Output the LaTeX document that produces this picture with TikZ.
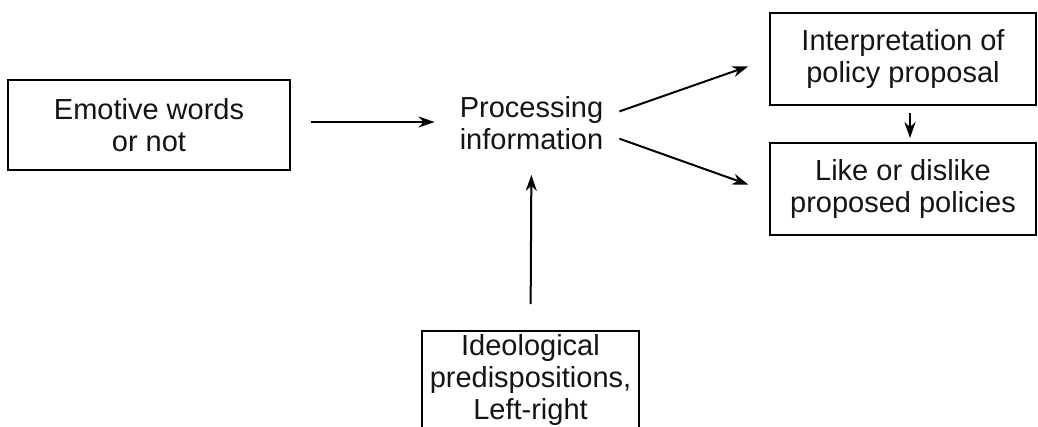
\documentclass[tikz,border=0pt]{standalone}
\usepackage{fontspec}
\setmainfont{Liberation Sans}
\usetikzlibrary{arrows.meta}
\begin{document}
\begin{tikzpicture}[x=1pt,y=-1pt,
  every node/.style={align=center, inner sep=0pt, font=\fontsize{29}{32}\selectfont, text=black!92},
  box/.style={draw=black, line width=1.8pt},
  arr/.style={-{Stealth[length=16pt,width=11pt,inset=5pt]}, line width=2pt}]
\useasboundingbox (0,0) rectangle (1038,426);
\clip (0,0) rectangle (1038,426);
\node[box, minimum width=282pt, minimum height=90pt] (emo) at (149,125) {Emotive words\\or not};
\node[minimum width=143pt, minimum height=50pt] (proc) at (531.5,123) {Processing\\information};
\node[box, minimum width=266pt, minimum height=92pt] (interp) at (903,59) {Interpretation of\\policy proposal};
\node[box, minimum width=266pt, minimum height=92pt] (like) at (903,189) {Like or dislike\\proposed policies};
\node[box, minimum width=217pt, minimum height=98pt] (ideo) at (530.5,380) {Ideological\\predispositions,\\Left-right};
\draw[arr, shorten <=20pt, shorten >=25pt] ([yshift=3pt]emo.east) -- ([yshift=1pt]proc.west);
\draw[arr, shorten <=17pt, shorten >=22pt] ([yshift=6pt]proc.east) -- (interp.west);
\draw[arr, shorten <=17pt, shorten >=22pt] ([yshift=-10pt]proc.east) -- ([yshift=-3pt]like.west);
\draw[arr, shorten <=7pt, shorten >=4pt] ([xshift=7pt]interp.south) -- ([xshift=7pt]like.north);
\draw[arr, shorten <=26pt, shorten >=25pt] (ideo.north) -- (proc.south);
\end{tikzpicture}
\end{document}
